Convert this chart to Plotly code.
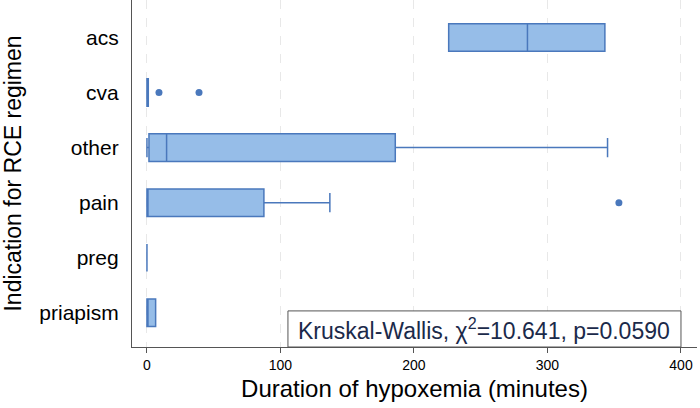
import plotly.graph_objects as go

categories = ["acs", "cva", "other", "pain", "preg", "priapism"]
q1 = [226, 0, 1.5, 0, 0, 0]
median = [285, 0, 14.7, 0, 0, 0]
q3 = [343, 1, 186, 87.6, 0, 6.5]
lower_fence = [226, 0, 0, 0, 0, 0]
upper_fence = [343, 1, 345, 137, 0, 6.5]

outlier_cats = ["cva", "cva", "pain"]
outlier_vals = [9, 39, 353.5]

x_ticks = [0, 100, 200, 300, 400]
annot_text = "Kruskal-Wallis, χ<sup>2</sup>=10.641, p=0.0590"

FILL = "#96BDE8"
LINE = "#4A78BC"
FONT = "Liberation Sans, Arial, sans-serif"

fig = go.Figure()
fig.add_trace(go.Box(
    orientation="h",
    y=categories,
    q1=q1, median=median, q3=q3,
    lowerfence=lower_fence, upperfence=upper_fence,
    fillcolor=FILL,
    line=dict(color=LINE, width=1.5),
    width=0.5,
    whiskerwidth=0.7,
    boxpoints=False,
    showlegend=False,
))
fig.add_trace(go.Scatter(
    x=outlier_vals, y=outlier_cats, mode="markers",
    marker=dict(color=LINE, size=7),
    showlegend=False,
))

box_x0, box_x1, box_h = 105.6, 400, 0.104

fig.update_layout(
    width=700, height=408,
    margin=dict(l=132, r=3, t=0, b=61),
    paper_bgcolor="white", plot_bgcolor="white",
    font=dict(family=FONT, color="black"),
    xaxis=dict(
        range=[-11.2, 412], tickvals=x_ticks, ticktext=[str(v) for v in x_ticks],
        showgrid=True, gridcolor="#E8E8E8", griddash="dash", gridwidth=1,
        showline=True, linecolor="#555555", linewidth=1.2,
        ticks="outside", ticklen=5, tickcolor="#555555",
        tickfont=dict(size=14, color="black"),
        zeroline=False,
        title=dict(text="Duration of hypoxemia (minutes)", font=dict(size=24), standoff=8),
    ),
    yaxis=dict(
        type="category", categoryorder="array", categoryarray=categories,
        range=[5.62, -0.68],
        showgrid=False, showline=True, linecolor="#555555", linewidth=1.2,
        ticks="", ticklabelstandoff=8,
        tickfont=dict(size=21, color="black"),
        title=dict(text="Indication for RCE regimen", font=dict(size=23), standoff=12),
    ),
    shapes=[dict(
        type="rect", xref="x", yref="paper",
        x0=box_x0, x1=box_x1, y0=0, y1=box_h,
        line=dict(color="#555555", width=1), fillcolor="white", layer="above",
    )],
    annotations=[dict(
        text=annot_text, xref="x", yref="paper",
        x=(box_x0 + box_x1) / 2, y=box_h / 2, xanchor="center", yanchor="middle",
        showarrow=False, font=dict(size=23, color="#1B2A4A", family=FONT),
    )],
)

fig.write_html("out.html")
